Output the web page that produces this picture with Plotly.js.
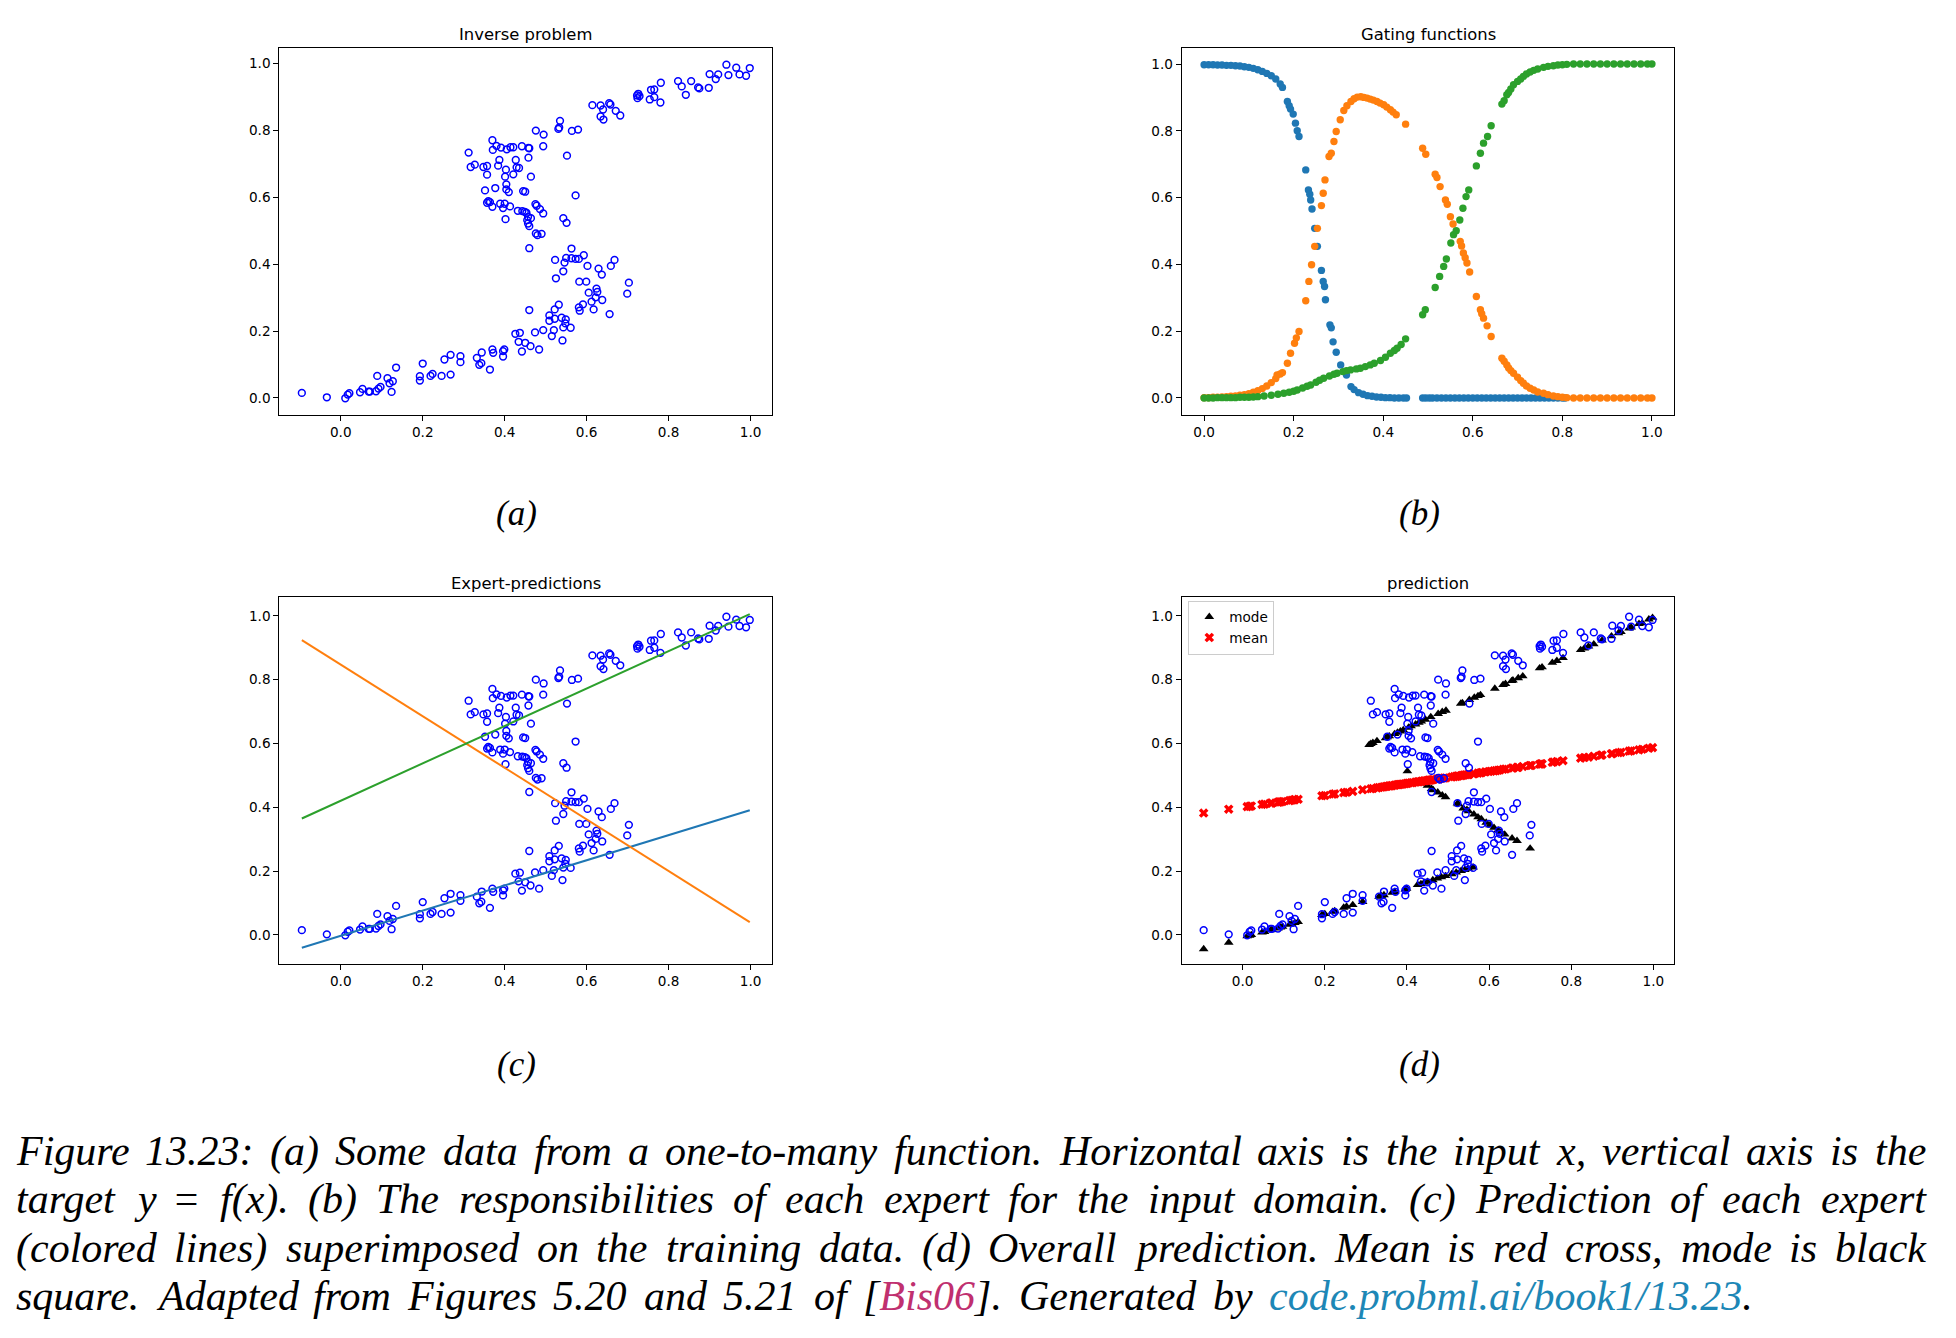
<!DOCTYPE html>
<html><head><meta charset="utf-8">
<script src="https://cdn.plot.ly/plotly-3.0.1.min.js"></script>
<style>body{margin:0;background:#fff}#chart{width:1956px;height:1338px}</style>
</head><body><div id="chart"></div>
<script>
// ---- training data (panels a, c, d) ----
const dataX = [-0.095,-0.034,0.011,0.017,0.021,0.047,0.053,0.068,0.071,0.086,0.089,0.092,0.097,0.114,0.119,0.127,0.124,0.135,0.193,0.193,0.200,0.219,0.224,0.246,0.253,0.268,0.268,0.292,0.292,0.332,0.338,0.343,0.344,0.364,0.370,0.372,0.396,0.396,0.399,0.426,0.437,0.434,0.442,0.450,0.460,0.463,0.474,0.484,0.494,0.509,0.509,0.515,0.520,0.522,0.522,0.532,0.539,0.541,0.543,0.548,0.549,0.561,0.525,0.543,0.523,0.546,0.550,0.563,0.563,0.573,0.581,0.593,0.602,0.582,0.599,0.581,0.583,0.591,0.605,0.612,0.617,0.622,0.624,0.626,0.629,0.637,0.638,0.656,0.659,0.668,0.703,0.699,
0.312,0.317,0.327,0.348,0.357,0.357,0.352,0.360,0.364,0.357,0.370,0.371,0.377,0.380,0.384,0.387,0.391,0.389,0.396,0.400,0.370,0.402,0.401,0.403,0.404,0.405,0.404,0.410,0.413,0.414,0.421,0.421,0.427,0.429,0.435,0.432,0.442,0.445,0.450,0.443,0.449,0.453,0.457,0.455,0.457,0.464,0.460,0.458,0.460,0.458,0.464,0.475,0.478,0.486,0.494,0.476,0.480,0.490,0.460,0.476,0.494,0.495,0.531,0.533,0.535,0.552,0.543,0.551,0.573,0.564,0.579,
0.614,0.634,0.640,0.634,0.641,0.655,0.658,0.671,0.682,0.723,0.726,0.729,0.724,0.754,0.757,0.765,0.765,0.780,0.781,0.823,0.832,0.842,0.855,0.872,0.875,0.898,0.900,0.915,0.921,0.941,0.946,0.965,0.973,0.989,0.998];
const dataY = [0.015,0.002,-0.001,0.010,0.014,0.017,0.027,0.019,0.019,0.020,0.066,0.028,0.033,0.059,0.044,0.050,0.018,0.091,0.065,0.052,0.103,0.066,0.072,0.066,0.115,0.129,0.070,0.125,0.107,0.120,0.099,0.104,0.136,0.085,0.145,0.135,0.140,0.124,0.145,0.192,0.195,0.168,0.139,0.165,0.263,0.155,0.196,0.145,0.203,0.247,0.231,0.185,0.203,0.265,0.237,0.279,0.240,0.172,0.211,0.223,0.235,0.210,0.358,0.379,0.413,0.405,0.419,0.447,0.418,0.416,0.416,0.427,0.395,0.348,0.348,0.271,0.261,0.280,0.315,0.288,0.265,0.301,0.327,0.317,0.387,0.369,0.293,0.251,0.395,0.413,0.345,0.312,
0.734,0.691,0.698,0.691,0.694,0.668,0.621,0.589,0.586,0.584,0.771,0.742,0.628,0.754,0.695,0.712,0.749,0.581,0.568,0.581,0.572,0.535,0.662,0.683,0.639,0.744,0.624,0.616,0.573,0.750,0.750,0.669,0.712,0.690,0.688,0.560,0.753,0.619,0.617,0.559,0.557,0.554,0.542,0.532,0.522,0.538,0.514,0.748,0.747,0.719,0.662,0.580,0.575,0.565,0.552,0.492,0.487,0.491,0.448,0.800,0.753,0.788,0.805,0.809,0.829,0.725,0.538,0.524,0.606,0.799,0.803,
0.876,0.875,0.863,0.842,0.833,0.882,0.878,0.859,0.845,0.905,0.910,0.903,0.897,0.893,0.922,0.923,0.900,0.884,0.943,0.948,0.932,0.907,0.948,0.929,0.926,0.928,0.969,0.954,0.968,0.997,0.966,0.988,0.968,0.964,0.987];

// ---- gating functions (panel b) ----
const gateBlueX = [0.000,0.010,0.020,0.030,0.040,0.050,0.060,0.070,0.080,0.090,0.100,0.110,0.120,0.130,0.140,0.150,0.160,0.170,0.175,0.186,0.190,0.193,0.199,0.204,0.208,0.212,0.227,0.233,0.236,0.238,0.241,0.247,0.253,0.262,0.266,0.269,0.271,0.281,0.284,0.288,0.295,0.305,0.318,0.328,0.335,0.345,0.355,0.365,0.375,0.385,0.395,0.405,0.415,0.425,0.435,0.445,0.452,0.488,0.495,0.503,0.510,0.520,0.530,0.540,0.550,0.560,0.570,0.580,0.590,0.600,0.610,0.620,0.630,0.640,0.650,0.660,0.670,0.680,0.690,0.700,0.710,0.720,0.730,0.740,0.750,0.760,0.770,0.780,0.790,0.800,0.806];
const gateBlueY = [0.998,0.998,0.998,0.997,0.997,0.996,0.996,0.995,0.994,0.992,0.990,0.987,0.983,0.978,0.972,0.965,0.955,0.940,0.930,0.888,0.875,0.865,0.850,0.823,0.800,0.783,0.683,0.623,0.610,0.593,0.566,0.508,0.454,0.382,0.349,0.334,0.294,0.219,0.210,0.168,0.137,0.099,0.069,0.034,0.025,0.016,0.011,0.007,0.005,0.003,0.002,0.001,0.001,0.000,0.000,0.000,0.000,0.000,0.000,0.000,0.000,0.000,0.000,0.000,0.000,0.000,0.000,0.000,0.000,0.000,0.000,0.000,0.000,0.000,0.000,0.000,0.000,0.000,0.000,0.000,0.000,0.000,0.000,0.000,0.000,0.000,0.000,0.000,0.000,0.000,0.000];
const gateOrangeX = [0.000,0.010,0.020,0.030,0.040,0.050,0.060,0.070,0.080,0.090,0.100,0.110,0.120,0.130,0.140,0.150,0.160,0.163,0.170,0.175,0.186,0.193,0.202,0.206,0.212,0.227,0.234,0.240,0.247,0.253,0.262,0.266,0.270,0.279,0.284,0.290,0.295,0.304,0.312,0.319,0.328,0.335,0.342,0.350,0.357,0.364,0.371,0.378,0.386,0.393,0.401,0.408,0.416,0.422,0.429,0.450,0.488,0.495,0.516,0.520,0.527,0.539,0.543,0.550,0.556,0.572,0.575,0.579,0.583,0.587,0.593,0.608,0.617,0.620,0.624,0.632,0.641,0.665,0.670,0.676,0.680,0.685,0.691,0.700,0.707,0.713,0.720,0.728,0.736,0.745,0.758,0.768,0.780,0.790,0.800,0.810,0.825,0.840,0.855,0.870,0.885,0.900,0.915,0.930,0.945,0.960,0.975,0.990,1.000];
const gateOrangeY = [0.001,0.001,0.002,0.002,0.003,0.004,0.005,0.006,0.008,0.010,0.013,0.017,0.022,0.028,0.036,0.046,0.058,0.069,0.072,0.076,0.104,0.134,0.164,0.180,0.199,0.291,0.349,0.399,0.454,0.508,0.576,0.613,0.653,0.723,0.733,0.768,0.798,0.833,0.861,0.875,0.888,0.896,0.901,0.902,0.900,0.898,0.895,0.892,0.888,0.883,0.878,0.871,0.863,0.856,0.848,0.820,0.748,0.730,0.670,0.660,0.633,0.593,0.580,0.543,0.521,0.469,0.455,0.434,0.420,0.404,0.377,0.304,0.264,0.252,0.239,0.216,0.184,0.119,0.110,0.099,0.090,0.082,0.074,0.062,0.052,0.044,0.036,0.029,0.024,0.018,0.014,0.010,0.006,0.004,0.002,0.001,0.000,0.000,0.000,0.000,0.000,0.000,0.000,0.000,0.000,0.000,0.000,0.000,0.000];
const gateGreenX = [0.000,0.010,0.020,0.030,0.040,0.050,0.060,0.070,0.080,0.090,0.100,0.110,0.120,0.134,0.150,0.165,0.178,0.190,0.200,0.208,0.220,0.230,0.238,0.250,0.258,0.267,0.280,0.290,0.297,0.310,0.318,0.327,0.340,0.349,0.360,0.371,0.380,0.394,0.405,0.416,0.425,0.431,0.440,0.450,0.488,0.494,0.516,0.526,0.535,0.541,0.551,0.557,0.563,0.571,0.578,0.585,0.591,0.608,0.617,0.624,0.633,0.641,0.665,0.670,0.676,0.680,0.685,0.691,0.700,0.707,0.713,0.720,0.728,0.736,0.745,0.758,0.768,0.780,0.790,0.800,0.810,0.825,0.840,0.855,0.870,0.885,0.900,0.915,0.930,0.945,0.960,0.975,0.990,1.000];
const gateGreenY = [0.000,0.000,0.000,0.001,0.001,0.001,0.001,0.001,0.002,0.002,0.002,0.003,0.004,0.006,0.008,0.011,0.014,0.017,0.020,0.024,0.030,0.035,0.039,0.047,0.053,0.059,0.066,0.071,0.074,0.079,0.082,0.084,0.087,0.089,0.094,0.099,0.104,0.112,0.122,0.134,0.142,0.149,0.160,0.177,0.249,0.264,0.331,0.364,0.394,0.416,0.464,0.489,0.501,0.533,0.568,0.603,0.623,0.695,0.733,0.763,0.783,0.815,0.880,0.890,0.908,0.915,0.925,0.938,0.948,0.955,0.963,0.970,0.976,0.981,0.985,0.990,0.993,0.995,0.997,0.998,0.999,1.000,1.000,1.000,1.000,1.000,1.000,1.000,1.000,1.000,1.000,1.000,1.000,1.000];

// ---- expert predictions (panel c) ----
const expertX = [-0.095, 0.998];
const expertBlueY = [-0.040, 0.391];
const expertOrangeY = [0.924, 0.040];
const expertGreenY = [0.365, 1.005];

// ---- overall prediction (panel d) ----
const meanX = [-0.095,-0.034,0.011,0.017,0.021,0.047,0.053,0.068,0.071,0.086,0.089,0.092,0.097,0.114,0.119,0.124,0.127,0.135,0.193,0.200,0.219,0.224,0.246,0.253,0.268,
0.292,0.312,0.317,0.327,0.332,0.338,0.343,0.348,0.352,0.357,0.360,0.364,0.370,0.372,0.377,0.380,0.384,0.387,0.391,0.396,0.400,0.404,0.410,0.414,0.421,0.426,0.429,0.434,0.437,0.442,0.445,0.450,0.453,0.457,0.460,0.464,0.474,0.478,0.484,0.490,0.494,0.509,0.515,0.520,0.523,0.525,0.531,0.535,0.539,0.543,0.548,0.551,0.561,0.564,0.573,0.579,0.582,0.591,0.599,0.605,0.612,0.617,0.622,0.626,0.634,0.640,0.656,0.659,0.668,0.671,0.682,0.699,0.703,0.723,0.726,0.729,0.754,0.757,0.765,0.780,
0.823,0.832,0.842,0.855,0.872,0.875,0.898,0.900,0.915,0.921,0.941,0.946,0.965,0.973,0.989,0.998];
const meanY = [0.382,0.394,0.402,0.403,0.404,0.409,0.410,0.413,0.413,0.416,0.417,0.417,0.418,0.421,0.422,0.423,0.424,0.425,0.436,0.437,0.441,0.442,0.446,0.447,0.450,
0.455,0.458,0.459,0.461,0.462,0.463,0.464,0.465,0.466,0.467,0.467,0.468,0.469,0.470,0.471,0.471,0.472,0.472,0.473,0.474,0.475,0.476,0.477,0.477,0.479,0.480,0.480,0.481,0.482,0.483,0.483,0.484,0.485,0.485,0.486,0.487,0.489,0.489,0.491,0.492,0.492,0.495,0.496,0.497,0.498,0.498,0.499,0.500,0.501,0.502,0.502,0.503,0.505,0.505,0.507,0.508,0.509,0.511,0.512,0.513,0.514,0.515,0.516,0.517,0.519,0.520,0.523,0.523,0.525,0.525,0.528,0.531,0.531,0.535,0.536,0.536,0.541,0.542,0.543,0.546,
0.554,0.556,0.557,0.560,0.563,0.564,0.568,0.568,0.571,0.572,0.576,0.577,0.580,0.582,0.585,0.587];
const modeX = [-0.095,-0.034,0.011,0.017,0.021,0.047,0.053,0.068,0.071,0.086,0.092,0.097,0.114,0.119,0.127,0.135,0.193,0.200,0.219,0.224,0.246,0.253,0.268,0.292,0.332,0.338,0.344,0.364,0.370,0.396,0.399,0.426,0.434,0.442,0.450,0.463,0.474,0.484,0.494,0.509,0.520,0.532,0.541,0.549,0.561,
0.401,0.442,0.450,0.460,0.464,0.475,0.486,0.494,0.523,0.525,0.537,0.546,0.550,0.563,0.573,0.581,0.593,0.602,0.612,0.622,0.629,0.638,0.656,0.668,0.700,
0.308,0.312,0.317,0.327,0.348,0.352,0.357,0.370,0.377,0.384,0.391,0.404,0.410,0.421,0.429,0.435,0.445,0.458,0.476,0.486,0.495,0.531,0.535,0.552,0.564,0.573,0.579,0.614,0.634,0.640,0.655,0.658,0.671,0.682,0.723,0.729,0.754,0.765,0.780,0.823,0.832,0.842,0.855,0.875,0.898,0.915,0.921,0.941,0.946,0.965,0.973,0.989,0.998];
const modeY = [-0.044,-0.024,-0.004,-0.002,0.000,0.008,0.010,0.015,0.016,0.021,0.024,0.026,0.032,0.035,0.038,0.041,0.063,0.066,0.073,0.075,0.086,0.089,0.094,0.104,0.120,0.122,0.125,0.133,0.135,0.143,0.145,0.157,0.160,0.164,0.167,0.172,0.177,0.181,0.185,0.191,0.196,0.201,0.204,0.208,0.212,
0.513,0.475,0.468,0.458,0.454,0.447,0.438,0.432,0.412,0.410,0.397,0.392,0.388,0.378,0.369,0.363,0.352,0.344,0.336,0.328,0.322,0.315,0.303,0.295,0.271,
0.596,0.599,0.602,0.608,0.617,0.620,0.623,0.630,0.634,0.638,0.642,0.650,0.654,0.660,0.665,0.669,0.675,0.683,0.693,0.699,0.703,0.725,0.727,0.737,0.744,0.749,0.752,0.772,0.784,0.787,0.796,0.798,0.805,0.811,0.836,0.839,0.853,0.859,0.868,0.893,0.898,0.904,0.911,0.923,0.936,0.946,0.950,0.961,0.964,0.975,0.977,0.989,0.994];

const tickVals = [0, 0.2, 0.4, 0.6, 0.8, 1.0];
const tickText = ["0.0", "0.2", "0.4", "0.6", "0.8", "1.0"];
const panelTitles = ["Inverse problem", "Gating functions", "Expert-predictions", "prediction"];
const panelLabels = ["(a)", "(b)", "(c)", "(d)"];
const legendNames = ["mode", "mean"];
const captionLines = [
  "Figure 13.23: (a) Some data from a one-to-many function. Horizontal axis is the input x, vertical axis is the",
  "target y = f(x). (b) The responsibilities of each expert for the input domain. (c) Prediction of each expert",
  "(colored lines) superimposed on the training data. (d) Overall prediction. Mean is red cross, mode is black",
  "square. Adapted from Figures 5.20 and 5.21 of [Bis06]. Generated by code.probml.ai/book1/13.23."
];

// ---- layout helpers ----
const W = 1956, H = 1338;
const px = p => p / W;
const py = p => 1 - p / H;
const tab = {blue: "#1f77b4", orange: "#ff7f0e", green: "#2ca02c"};
const sans = "DejaVu Sans";
const serif = "Liberation Serif";

function axis(domain, range, extra) {
  return Object.assign({
    domain: domain, range: range, showgrid: false, zeroline: false,
    showline: true, mirror: true, linecolor: "#000", linewidth: 1,
    ticks: "outside", ticklen: 5, tickwidth: 1, tickcolor: "#000",
    tickvals: tickVals, ticktext: tickText,
    tickfont: {family: sans, size: 13.6, color: "#000"}, fixedrange: true
  }, extra || {});
}

const colL = [px(279.3), px(772.3)], colR = [px(1181.7), px(1674.3)];
const rowT = [py(415), py(48)], rowB = [py(964), py(597.3)];

const circ = (xa, ya) => ({
  x: dataX, y: dataY, xaxis: xa, yaxis: ya, type: "scatter", mode: "markers", showlegend: false,
  marker: {symbol: "circle-open", size: 6.8, color: "#0000ff", line: {width: 1.5, color: "#0000ff"}}
});
const gate = (x, y, c) => ({
  x: x, y: y, xaxis: "x2", yaxis: "y2", type: "scatter", mode: "markers", showlegend: false,
  marker: {symbol: "circle", size: 7.4, color: c}
});
const line = (y, c) => ({
  x: expertX, y: y, xaxis: "x3", yaxis: "y3", type: "scatter", mode: "lines", showlegend: false,
  line: {color: c, width: 2}
});

const traces = [
  circ("x", "y"),
  gate(gateBlueX, gateBlueY, tab.blue),
  gate(gateOrangeX, gateOrangeY, tab.orange),
  gate(gateGreenX, gateGreenY, tab.green),
  circ("x3", "y3"),
  line(expertBlueY, tab.blue),
  line(expertOrangeY, tab.orange),
  line(expertGreenY, tab.green),
  {x: modeX, y: modeY, xaxis: "x4", yaxis: "y4", type: "scatter", mode: "markers", name: legendNames[0],
   marker: {symbol: "triangle-up", size: 8.5, color: "#000"}},
  {x: meanX, y: meanY, xaxis: "x4", yaxis: "y4", type: "scatter", mode: "markers", name: legendNames[1],
   marker: {symbol: "x", size: 8.5, color: "#ff0000"}},
  circ("x4", "y4")
];

const annotations = [];
const titlePos = [[525.8, 34.3], [1428, 34.3], [525.8, 583.3], [1428, 583.3]];
panelTitles.forEach((t, i) => annotations.push({
  text: t, xref: "paper", yref: "paper", x: px(titlePos[i][0]), y: py(titlePos[i][1]),
  xanchor: "center", yanchor: "middle", showarrow: false,
  font: {family: sans, size: 16.4, color: "#000"}
}));
const labelPos = [[516.7, 514], [1419.5, 514], [516.7, 1064], [1419.5, 1064]];
panelLabels.forEach((t, i) => annotations.push({
  text: t, xref: "paper", yref: "paper", x: px(labelPos[i][0]), y: py(labelPos[i][1]),
  xanchor: "center", yanchor: "middle", showarrow: false,
  font: {family: serif + ", serif", size: 35, style: "italic", color: "#000"}
}));

// caption: justified lines, word by word
const capSize = 42;
const ctx = document.createElement("canvas").getContext("2d");
ctx.font = "italic " + capSize + "px '" + serif + "', serif";
const colorize = w => w
  .replace("Bis06", '<span style="color:#c0306f">Bis06</span>')
  .replace("code.probml.ai/book1/13.23", '<span style="color:#1d87b6">code.probml.ai/book1/13.23</span>');
const capLeft = 15, capRight = 1925;
const capY = [1151, 1199, 1248, 1296];
captionLines.forEach((ln, li) => {
  const words = ln.split(" ");
  const widths = words.map(w => ctx.measureText(w).width);
  const total = widths.reduce((a, b) => a + b, 0);
  const last = li === captionLines.length - 1;
  const gap = last ? ctx.measureText(" ").width * 1.6 : (capRight - capLeft - total) / (words.length - 1);
  let xpos = capLeft;
  words.forEach((w, wi) => {
    annotations.push({
      text: colorize(w), xref: "paper", yref: "paper", x: px(xpos), y: py(capY[li]),
      xanchor: "left", yanchor: "middle", showarrow: false, borderpad: 0,
      font: {family: serif + ", serif", size: capSize, style: "italic", color: "#000"}
    });
    xpos += widths[wi] + gap;
  });
});

const layout = {
  width: W, height: H, margin: {l: 0, r: 0, t: 0, b: 0},
  paper_bgcolor: "#fff", plot_bgcolor: "#fff",
  xaxis: axis(colL, [-0.150, 1.053], {anchor: "y"}),
  yaxis: axis(rowT, [-0.051, 1.047], {anchor: "x"}),
  xaxis2: axis(colR, [-0.05, 1.05], {anchor: "y2"}),
  yaxis2: axis(rowT, [-0.051, 1.048], {anchor: "x2"}),
  xaxis3: axis(colL, [-0.150, 1.053], {anchor: "y3"}),
  yaxis3: axis(rowB, [-0.091, 1.058], {anchor: "x3"}),
  xaxis4: axis(colR, [-0.1485, 1.051], {anchor: "y4"}),
  yaxis4: axis(rowB, [-0.091, 1.058], {anchor: "x4"}),
  showlegend: true,
  legend: {x: px(1188.3), y: py(600.5), xanchor: "left", yanchor: "top",
    bgcolor: "rgba(255,255,255,0.85)", bordercolor: "#cccccc", borderwidth: 1,
    font: {family: sans, size: 13.6, color: "#000"}, tracegroupgap: 0},
  annotations: annotations
};

Plotly.newPlot("chart", traces, layout, {staticPlot: true, displayModeBar: false});
</script>
</body></html>
